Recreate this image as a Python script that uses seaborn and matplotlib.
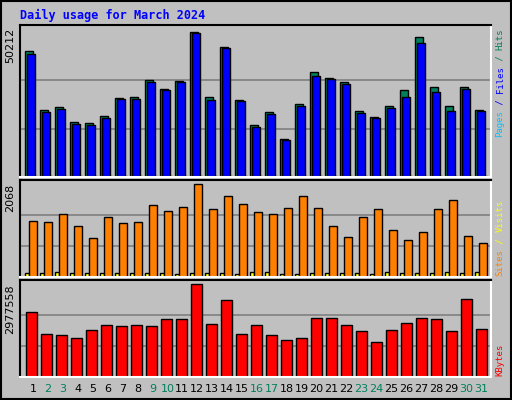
import numpy as np
import pandas as pd
import matplotlib
matplotlib.use("Agg")
import matplotlib.pyplot as plt
import seaborn as sns

days = list(range(1, 32))
hits = [43365, 23166, 24193, 19058, 18716, 21112, 27274, 27617, 33437, 30355, 33094, 50212, 27617, 44734, 26590,
        18031, 22481, 13238, 25220, 36176, 34121, 32752, 22824, 20770, 24535, 30013, 48500, 31040, 24535, 31040, 23166]
files = [42338, 22481, 23509, 18373, 18031, 20427, 26932, 26932, 32752, 30013, 32752, 49870, 26590, 44392, 26247,
         17346, 21797, 12895, 24535, 34806, 33779, 32067, 22139, 20427, 23851, 27617, 46104, 29328, 22824, 30355, 22824]
pages = [400] * 31
visits = [1256, 1233, 1414, 1143, 872, 1346, 1211, 1233, 1594, 1481, 1549, 2068, 1504, 1797, 1617,
          1459, 1414, 1527, 1797, 1527, 1143, 895, 1346, 1504, 1053, 827, 1008, 1504, 1707, 917, 760]
sites = [83, 83, 105, 83, 83, 83, 83, 83, 83, 83, 60, 83, 83, 83, 60,
         105, 105, 60, 60, 83, 83, 83, 83, 60, 105, 83, 83, 83, 105, 83, 105]
kbytes = [2097300, 1380100, 1347500, 1249700, 1510500, 1673500, 1640900, 1673500, 1640900, 1869100, 1869100,
          2977558, 1706100, 2455900, 1380100, 1673500, 1347500, 1184500, 1249700, 1901700, 1901700, 1673500,
          1477900, 1119300, 1510500, 1738700, 1901700, 1869100, 1477900, 2488500, 1543100]
weekend = {2, 3, 9, 10, 16, 17, 23, 24, 30, 31}

BG = "#C0C0C0"
fig = plt.figure(figsize=(5.12, 4.0), dpi=100, facecolor=BG)
W, H = 512, 400
XL = (0.48, 0.48 + 471 / 15)

def mkax(top, bottom):
    ax = fig.add_axes([20 / W, 1 - bottom / H, 471 / W, (bottom - top) / H])
    ax.set_facecolor(BG)
    for s in ("left", "top"):
        ax.spines[s].set_color("black")
    for s in ("right", "bottom"):
        ax.spines[s].set_color("white")
    for sp in ax.spines.values():
        sp.set_linewidth(1.5)
    return ax

def bars(ax, y, off, width, color):
    d = np.array(days, dtype=float) + off
    sns.barplot(x=d, y=y, native_scale=True, width=width, color=color, saturation=1,
                edgecolor="black", linewidth=1, ax=ax)

def grid(ax, vmax):
    for f in (1 / 3, 2 / 3):
        ax.axhline(vmax * f, color="#808080", lw=1.2, zorder=0)

def finish(ax, vmax):
    ax.set_ylim(0, vmax * 1.045)
    ax.set_xlim(*XL)
    ax.set_xticks([]); ax.set_yticks([])
    ax.set_xlabel(""); ax.set_ylabel("")

ax1 = mkax(25, 177)
grid(ax1, 50212)
bars(ax1, hits, 0.08, 0.55, "#00805C")
bars(ax1, files, 0.22, 0.55, "#0000FF")
bars(ax1, pages, 0.36, 0.55, "#00C0FF")
finish(ax1, 50212)

ax2 = mkax(180, 277)
grid(ax2, 2068)
bars(ax2, sites, -0.05, 0.27, "#FFFF00")
bars(ax2, visits, 0.36, 0.5, "#FF8000")
finish(ax2, 2068)

ax3 = mkax(280, 377)
grid(ax3, 2977558)
bars(ax3, kbytes, 0.25, 0.68, "#FF0000")
finish(ax3, 2977558)

for d in days:
    fig.text((33 + (d - 1) * 14.93) / W, 1 - 389 / H, str(d), ha="center", va="center",
             fontsize=8, color="#00805C" if d in weekend else "black", family="DejaVu Sans")

fig.text(20 / W, 1 - 15 / H, "Daily usage for March 2024", color="#0000FF", fontsize=8.5,
         fontweight="bold", family="DejaVu Sans Mono", va="center")

for txt, ytop in (("50212", 28), ("2068", 184), ("2977558", 284)):
    fig.text(10 / W, 1 - ytop / H, txt, rotation=90, ha="center", va="top", fontsize=8, family="DejaVu Sans")

def vlabel(pieces, ybottom, cw=5.45):
    y = ybottom
    for txt, col in pieces:
        fig.text(500 / W, 1 - y / H, txt, rotation=90, ha="center", va="bottom", color=col,
                 fontsize=6.5, family="DejaVu Sans Mono")
        y -= len(txt) * cw

vlabel([("Pages", "#00C0FF"), (" / ", "#0000FF"), ("Files", "#0000FF"), (" / ", "#00805C"), ("Hits", "#00805C")], 137)
vlabel([("Sites", "#FF8000"), (" / ", "#FFFF00"), ("Visits", "#FFFF00")], 276)
vlabel([("KBytes", "#FF0000")], 376)

fig.patches.append(plt.Rectangle((0.002, 0.002), 0.996, 0.996, transform=fig.transFigure,
                                 fill=False, edgecolor="black", lw=1.5))
fig.savefig("out.png", dpi=100, facecolor=BG)
